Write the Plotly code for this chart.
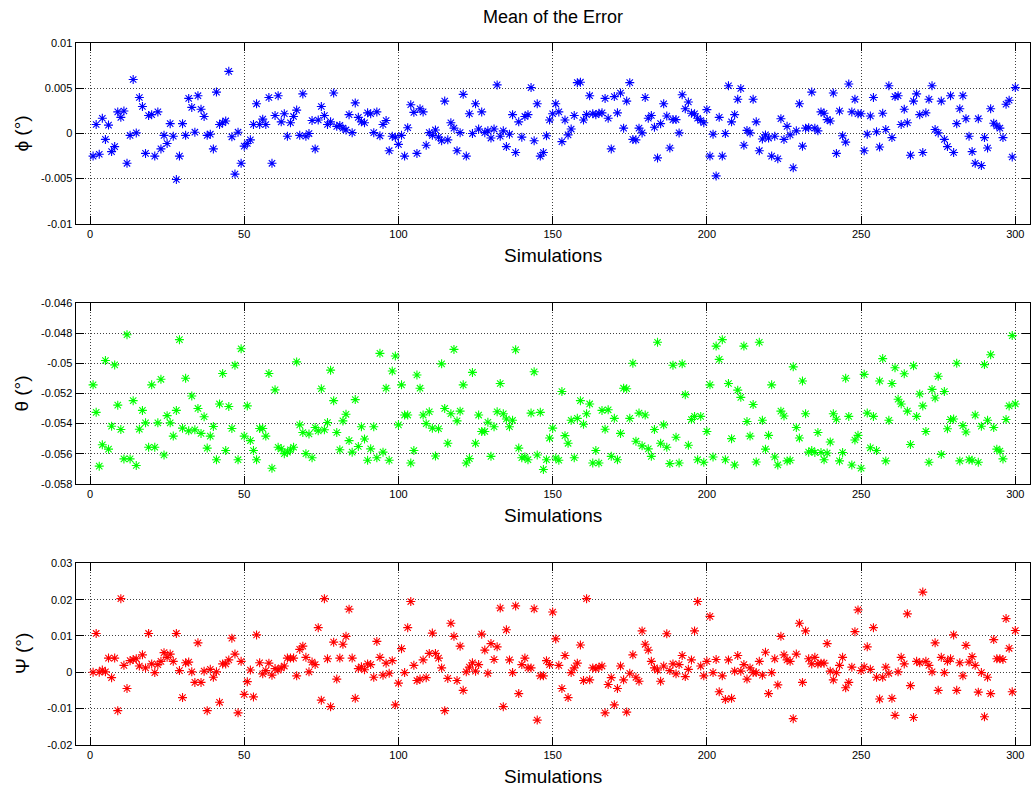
import plotly.graph_objects as go

# Simulation index
sims = list(range(1, 301))

# Mean error per simulation, in millidegrees
phi_mdeg = [
    -2.5, 1.0, -2.3, 1.7, -0.65, 0.94, -2.0, -1.45, 2.4, 1.8,
    2.5, -3.3, -0.2, 6.0, 0.07, 4.0, 3.0, -2.2, 2.0, 2.1,
    -2.5, 2.4, -1.7, -0.2, -1.1, 1.1, -0.3, -5.1, -2.5, 1.1,
    -0.2, 3.9, 2.9, 0.15, 4.2, 2.7, 1.9, -0.2, -0.07, -1.7,
    4.6, 1.0, 1.2, 1.4, 6.9, -0.36, -4.5, 0.15, -3.3, -1.4,
    -1.1, -0.7, 1.0, 3.3, 1.0, 1.6, 1.0, 4.0, -3.3, 2.0,
    4.2, 1.3, 2.2, -0.3, 1.2, 1.9, 2.6, -0.2, 4.4, -0.3,
    0.0, 1.45, -1.7,
    1.5, 3.0, 2.0, 1.0, 1.3, 4.5, 0.8, 0.9, 0.6, 0.4,
    2.1, 0.1, 3.4, 1.8, 1.3, 1.2, 2.3, 2.2, 0.1, 2.4,
    -0.25, 1.0, 1.45, -1.9, -0.3, -0.4, -1.2, -0.2, -2.5, 0.65,
    3.2, 2.35, -2.2, 2.75, 2.4, -1.3, 0.1, -0.2, 0.4, -0.4,
    -0.8, 3.6, -0.7, 1.2, 0.6, -1.9, 0.1, 4.35, -2.5, 2.2,
    0.0, 3.3, 0.5, 2.4, 0.1, 0.3, -0.5, 0.5, 5.4, -0.3,
    0.3, -1.45, -0.07, 2.1, -2.1, 1.3, -0.4, 1.9, 2.1, 5.1,
    -0.8, 3.3, -2.5, -2.1, -0.25, 1.5, 2.2,
    3.3, 2.4, -0.9, 1.5, -0.15, 0.5, 2.0, 5.65, 5.7, 1.5,
    2.1, 4.2, 2.2, 2.1, 2.25, 2.3, 3.9, 1.7, -1.7, 4.1,
    2.3, 4.5, 0.6, 3.6, 5.65, -0.65, -0.7, 0.6, 0.07, 4.0,
    1.7, 2.0, 0.7, -2.7, 1.1, 3.3, 1.95, -1.6, 1.55, 1.55,
    0.07, 4.3, 2.75, 3.5, 2.25, 2.2, 1.7, 1.45, 1.2, 2.65,
    -2.5, -0.07, -4.7, 1.8, -2.5, 0.0, 5.3, 1.3, 2.1, 3.8,
    5.0, -1.3, 0.35, 0.07, 3.8, 1.3, -1.9, -0.6, -0.15, -0.5,
    -2.5, -0.3, -2.8, 1.65, -0.65, 0.8,
    -0.15, -3.8, 0.3, 3.3, -1.4, 0.6, 0.65, 4.6, 0.6, 0.3,
    2.4, 2.25, 1.55, 1.4, 4.5, -2.2, 2.5, -0.25, -0.95, 5.5,
    2.4, 3.8, 2.2, 2.2, -1.9, -0.07, 1.95, 4.0, 0.2, -1.5,
    2.25, 0.45, 5.3, -0.45, 4.1, 4.2, 1.0, 2.7, 1.2, -2.4,
    3.6, 4.4, 2.1, -2.1, 2.3, 3.8, 5.3, 0.45, 0.07, 3.6,
    -0.65, -1.45, 4.2, -2.1, 1.1, 2.75, 4.2, 1.65, -0.3, -2.0,
    -3.3, 1.65, -3.55, -0.45, -1.6, 2.75, 1.15, 0.85, 0.6, -0.45,
    3.25, 3.7, -2.6, 5.1,
]

theta_mdeg = [
    -51.42, -53.25, -56.83, -55.41, -49.80, -55.70, -54.17, -50.09, -52.77, -54.39,
    -56.35, -48.08, -56.35, -52.47, -56.79, -54.37, -53.12, -53.95, -55.57, -51.42,
    -55.57, -53.95, -51.05, -56.09, -53.47, -53.95, -54.83, -53.12, -48.41, -54.30,
    -50.98, -54.48, -52.16, -54.41, -52.99, -54.65, -53.54, -55.63, -54.83, -54.19,
    -56.40, -52.69, -50.66, -55.79, -52.86, -54.32, -50.11, -56.40, -49.02, -54.83,
    -52.82, -55.13, -55.79, -56.40, -54.32, -54.32, -54.83, -50.66, -56.97, -51.75,
    -55.57, -55.68, -56.00, -55.90, -55.74, -55.57, -49.89, -54.08, -54.59, -56.00,
    -54.69, -56.27, -54.26,
    -54.48, -51.68, -54.41, -53.93, -50.44, -52.47, -54.59, -55.74, -53.82, -53.38,
    -55.13, -55.90, -52.40, -55.52, -54.21, -55.02, -56.44, -55.68, -54.21, -56.27,
    -49.32, -55.90, -51.64, -56.44, -50.50, -49.50, -54.08, -51.42, -53.43, -53.43,
    -56.62, -55.79, -50.76, -51.64, -53.43, -54.00, -53.21, -54.30, -56.16, -54.34,
    -50.02, -52.99, -55.31, -53.34, -49.06, -53.82, -53.17, -51.42, -56.62, -56.33,
    -50.59, -55.31, -53.43, -54.52, -54.52, -53.91, -56.18, -54.21, -53.21, -51.33,
    -53.34, -53.69, -54.21, -53.78, -49.08, -55.63, -56.27, -56.22, -56.40, -53.30,
    -50.55, -56.09, -53.25, -57.05, -56.40, -54.96, -54.30,
    -56.29, -56.44, -51.86, -54.80, -55.31, -53.78, -56.27, -53.65, -52.47, -54.04,
    -53.34, -52.69, -56.62, -55.79, -56.62, -53.12, -54.37, -53.08, -56.18, -53.65,
    -56.40, -54.65, -51.64, -51.68, -53.65, -49.98, -55.17, -53.30, -55.48, -53.43,
    -55.68, -56.18, -54.39, -48.58, -55.31, -54.08, -55.57, -56.66, -50.11, -54.91,
    -56.62, -50.02, -52.07, -55.44, -53.73, -53.52, -56.40, -53.52, -56.57, -54.52,
    -51.42, -56.22, -48.84, -49.72, -48.41, -56.40, -51.33, -55.00, -56.75, -51.77,
    -52.25, -48.84, -53.86, -54.83, -52.73, -56.55, -48.58, -53.78, -55.70, -54.78,
    -51.42, -56.22, -56.75, -53.17, -53.49, -56.48,
    -56.44, -50.22, -54.26, -54.96, -51.16, -53.34, -55.90, -55.79, -55.92, -54.59,
    -55.92, -56.40, -55.96, -55.22, -53.34, -53.71, -56.48, -55.92, -50.98, -53.52,
    -56.75, -55.09, -54.78, -56.97, -50.72, -53.30, -55.61, -53.52, -55.79, -51.16,
    -49.67, -56.48, -53.78, -51.33, -50.28, -52.38, -52.69, -50.68, -53.17, -55.39,
    -50.15, -53.52, -52.03, -52.82, -54.52, -56.57, -51.72, -52.29, -50.85, -56.05,
    -51.86, -54.34, -53.73, -53.69, -49.98, -56.48, -54.13, -54.56, -56.40, -56.44,
    -53.43, -56.57, -54.17, -50.07, -53.78, -49.41, -54.26, -55.70, -55.83, -56.35,
    -53.73, -52.82, -48.14, -52.69,
]

psi_mdeg = [
    0.0, 10.7, 0.0, 0.6, 0.1, 3.9, -1.5, 3.9, -10.6, 20.3,
    1.9, -4.5, 3.2, 3.5, 3.7, 1.7, 4.8, 1.2, 10.7, 2.3,
    -0.1, 2.1, 3.0, 5.4, 4.1, 5.0, 3.0, 10.7, 0.45, -7.0,
    2.6, 2.8, 0.1, -2.8, 8.1, -2.8, 0.3, -10.6, 0.8, -1.4,
    0.1, -8.3, 2.3, 2.3, 3.4, 9.4, 5.0, -11.2, 3.0, -6.1,
    -2.6, 0.6, -6.8, 10.3, 2.6, -0.45, 0.45, 2.5, -0.8, 1.0,
    0.6, 1.2, 1.7, 3.9, 3.9, 3.9, -1.0, 6.3, 7.2, 4.1,
    0.1, 2.8, 2.1,
    12.3, -7.7, 20.3, 3.7, -9.5, 8.3, -1.9, 3.9, 7.7, 9.9,
    17.4, 3.9, -7.2, 1.0, 1.5, 0.7, 2.3, 2.1, -1.4, 8.5,
    4.1, -0.8, 2.5, -0.3, 3.2, -9.0, -3.0, 6.5, -0.1, 12.3,
    19.5, 1.9, -2.3, -1.9, 3.4, -1.5, 5.2, 10.8, 5.2, 3.9,
    1.2, -10.6, -1.7, 13.5, 9.9, -2.3, 7.2, -5.0, 0.1, 1.4,
    2.6, 0.3, 2.1, 10.5, 6.1, -0.3, 7.9, 3.5, 7.0, 17.7,
    -9.5, 11.7, 3.4, -0.1, 18.3, -5.9, 2.1, 3.9, 1.2, 1.2,
    17.5, -13.2, -1.0, -1.0, 3.2, 2.1, 16.6,
    9.2, 1.9, -4.5, 4.6, -7.0, -0.1, 1.2, 2.5, 7.5, -2.3,
    20.3, -2.1, 1.2, 1.0, 1.4, 1.7, -11.2, -3.4, -1.5, -9.0,
    -4.5, 1.7, -2.1, -11.0, -0.3, 4.8, -1.4, -2.5, 11.4, 7.7,
    6.1, 3.0, 1.2, 0.6, -2.5, 1.7, 10.6, 0.45, 2.3, -0.45,
    2.1, 4.6, -1.2, 0.8, 3.4, 11.4, 19.5, 1.7, -1.0, 3.0,
    15.4, -0.1, 3.5, -5.4, -1.0, -7.5, 3.4, -7.2, 0.3, 4.6,
    0.3, 2.1, -1.9, 1.2, -0.1, -0.1, 3.0, -0.8, 5.5, -5.9,
    -0.1, 3.7, -3.5, 9.9, 4.8, 3.4,
    3.0, -12.8, 5.0, 13.5, -2.8, 11.4, 3.7, 2.3, 4.1, 2.3,
    2.5, 2.5, 7.9, 0.3, -2.1, -0.1, 1.9, 4.1, -4.3, -2.8,
    1.4, 11.2, 17.2, 0.45, 1.5, 7.0, 0.8, 12.3, -1.4, -7.4,
    -1.4, 1.4, -0.3, -7.2, -11.9, 0.1, 4.1, 2.3, 16.1, -3.7,
    -12.5, 3.0, 2.6, 22.1, 3.0, 1.9, 0.1, 8.1, -5.0, 4.1,
    -0.1, 3.0, 3.7, 10.3, -5.0, 2.6, -1.0, 7.4, 2.8, 4.3,
    1.9, -5.5, -0.1, -12.3, -1.4, -5.9, 9.0, 3.7, 3.7, 3.5,
    14.8, 6.6, -5.4, 11.5,
]

assert len(phi_mdeg) == len(theta_mdeg) == len(psi_mdeg) == len(sims), (
    len(phi_mdeg), len(theta_mdeg), len(psi_mdeg))

phi = [v / 1000 for v in phi_mdeg]
theta = [v / 1000 for v in theta_mdeg]
psi = [v / 1000 for v in psi_mdeg]

x_ticks = [0, 50, 100, 150, 200, 250, 300]
phi_ticks = [-0.01, -0.005, 0, 0.005, 0.01]
theta_ticks = [-0.058, -0.056, -0.054, -0.052, -0.05, -0.048, -0.046]
psi_ticks = [-0.02, -0.01, 0, 0.01, 0.02, 0.03]

W, H = 1032, 798
FONT = "Liberation Sans, Arial, Helvetica, sans-serif"

# pixel layout of the three stacked axes
ax_left, ax_right = 75.5, 1029.5
panels = [(38, 221), (302, 485), (566, 750)]


def ydom(top, bottom):
    return [1 - bottom / H, 1 - top / H]


fig = go.Figure()
series = [
    (phi, "#0000ff", "x", "y"),
    (theta, "#00ff00", "x2", "y2"),
    (psi, "#ff0000", "x3", "y3"),
]
for vals, col, xa, ya in series:
    fig.add_trace(go.Scatter(
        x=sims, y=vals, mode="markers", xaxis=xa, yaxis=ya,
        marker=dict(symbol="asterisk-open", size=7.5, color=col,
                    line=dict(color=col, width=1.1)),
        showlegend=False, hoverinfo="x+y",
    ))

axis_style = dict(
    ticks="inside", ticklen=8, tickwidth=1, tickcolor="black",
    showline=True, linecolor="black", linewidth=1, mirror="ticks",
    showgrid=True, gridcolor="rgba(0,0,0,0.75)", griddash="1px,2px", gridwidth=1,
    zeroline=False, tickfont=dict(family=FONT, size=11, color="black"),
)

xdom = [ax_left / W, ax_right / W]
layout = dict(
    width=W, height=H, margin=dict(l=0, r=0, t=0, b=0),
    paper_bgcolor="white", plot_bgcolor="white",
    font=dict(family=FONT, color="black"),
    title=dict(text="Mean of the Error", x=553 / W, y=1 - 17 / H,
               xanchor="center", yanchor="middle",
               font=dict(family=FONT, size=18, color="black")),
)
yticks = [
    (phi_ticks, ["-0.01", "-0.005", "0", "0.005", "0.01"], [-0.01, 0.01]),
    (theta_ticks, ["-0.058", "-0.056", "-0.054", "-0.052", "-0.05", "-0.048", "-0.046"], [-0.058, -0.046]),
    (psi_ticks, ["-0.02", "-0.01", "0", "0.01", "0.02", "0.03"], [-0.02, 0.03]),
]
for i, ((top, bottom), (tv, tt, rng)) in enumerate(zip(panels, yticks)):
    sfx = "" if i == 0 else str(i + 1)
    layout["xaxis" + sfx] = dict(
        axis_style, domain=xdom, range=[-4.7, 304.6], tickvals=x_ticks,
        anchor="y" + sfx,
    )
    layout["yaxis" + sfx] = dict(
        axis_style, domain=ydom(top, bottom), range=rng, tickvals=tv,
        ticktext=tt, anchor="x" + sfx,
    )

fig.update_layout(**layout)

ylabels = ["\u03d5 (\u00b0)", "\u03b8 (\u00b0)", "\u03a8 (\u00b0)"]
annots = []
for (top, bottom), lab in zip(panels, ylabels):
    annots.append(dict(
        text=lab, xref="paper", yref="paper", x=22 / W, y=1 - (top + bottom) / 2 / H,
        xanchor="center", yanchor="middle", textangle=-90, showarrow=False,
        font=dict(family=FONT, size=19, color="black"),
    ))
    annots.append(dict(
        text="Simulations", xref="paper", yref="paper", x=553 / W,
        y=1 - (bottom + 32) / H, xanchor="center", yanchor="middle",
        showarrow=False, font=dict(family=FONT, size=19, color="black"),
    ))
fig.update_layout(annotations=annots)

fig.write_html("out.html")
